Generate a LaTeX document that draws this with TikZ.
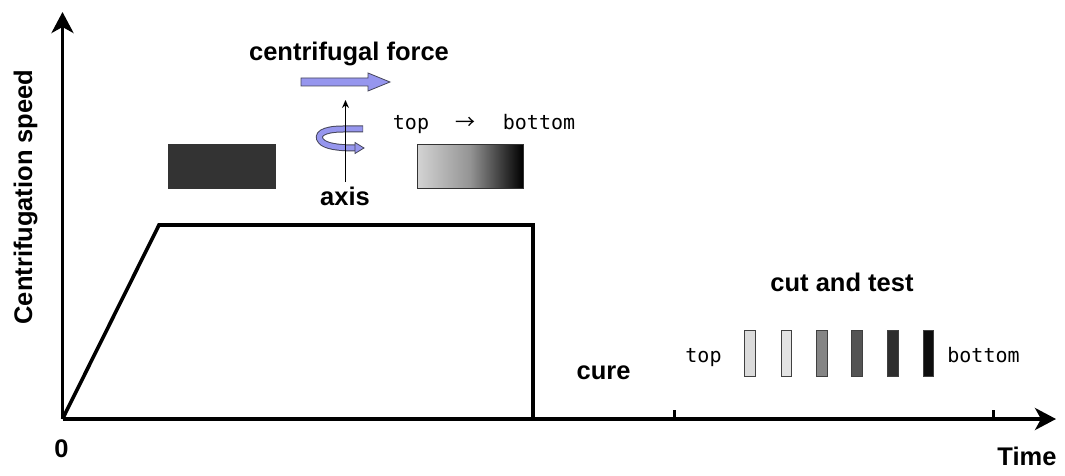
\documentclass[tikz,border=0pt]{standalone}
\usepackage{fontspec}
\setmainfont{Liberation Sans}
\newfontfamily\monofont{DejaVu Sans Mono}
\newfontfamily\cjkfont{Noto Sans CJK JP}
\usetikzlibrary{arrows.meta}
\definecolor{arrowblue}{RGB}{150,150,238}
\definecolor{edgegray}{RGB}{70,70,90}
\tikzset{
  x=1pt, y=-1pt,
  axisline/.style={line width=3.6pt, -{Stealth[length=21pt, width=22pt, inset=6pt]}},
  curve/.style={line width=3.6pt, line join=miter},
  boldlabel/.style={font=\fontsize{25.5}{30}\selectfont\bfseries, inner sep=0pt},
  monolabel/.style={font=\monofont\fontsize{20}{23}\selectfont, inner sep=0pt},
  sample/.style={draw=black!80, line width=0.8pt},
  bar/.style={draw=black!75, line width=0.8pt},
  tick/.style={line width=3pt},
}
\begin{document}
\begin{tikzpicture}
\useasboundingbox (0,0) rectangle (1065,476);
% axes
\coordinate (O) at (62.5,419);
\coordinate (Ytop) at (62.5,12);
\coordinate (Xend) at (1056,419);
\draw[axisline] (O) -- (Ytop);
\draw[axisline] (O) -- (Xend);
% speed profile
\coordinate (P1) at (159,225);
\coordinate (P2) at (533,225);
\coordinate (P3) at (533,419);
\draw[curve] (O) -- (P1) -- (P2) -- (P3);
% ticks
\coordinate (T1a) at (674,419); \coordinate (T1b) at (674,410);
\coordinate (T2a) at (993,419); \coordinate (T2b) at (993,410);
\draw[tick] (T1a) -- (T1b);
\draw[tick] (T2a) -- (T2b);
% axis labels
\node[boldlabel, anchor=base] (zero) at (61.5,457) {0};
\node[boldlabel, anchor=base] (time) at (1027,465) {Time};
\node[boldlabel, rotate=90, anchor=base] (ylabel) at (32,197) {Centrifugation speed};
% top illustration
\node[boldlabel, anchor=base] (cf) at (349,61) {centrifugal force};
\draw[draw=edgegray, line width=0.8pt, fill=arrowblue]
  (301,78) -- (368,78) -- (368,73) -- (390,82) -- (368,91) -- (368,86) -- (301,86) -- cycle;
% rotation curl
\draw[edgegray, line width=7pt]
  (363,129) -- (343,129) .. controls (322,129) and (316,135) .. (321,141)
  .. controls (325,146) and (337,148) .. (356,148);
\draw[arrowblue, line width=5pt]
  (362.6,129) -- (343,129) .. controls (322,129) and (316,135) .. (321,141)
  .. controls (325,146) and (337,148) .. (356.4,148);
\draw[draw=edgegray, line width=0.8pt, fill=arrowblue]
  (355,142.5) -- (364,148) -- (355,153.5) -- cycle;
\coordinate (axbot) at (345.5,182);
\coordinate (axtop) at (345.5,100);
\draw[line width=1.5pt, -{Stealth[length=8pt, width=7pt]}] (axbot) -- (axtop);
\node[boldlabel, anchor=base] (axis) at (345,205) {axis};
% samples
\node[sample, fill=black!80, minimum width=107pt, minimum height=44pt, inner sep=0pt] (dark) at (221.5,166) {};
\node[sample, left color=black!17, right color=black, middle color=black!42, minimum width=106pt, minimum height=44pt, inner sep=0pt] (grad) at (470,166) {};
\node[monolabel, anchor=base] (tt) at (411,129) {top};
\node[font=\cjkfont\fontsize{20}{23}\selectfont, inner sep=0pt, anchor=base] (ta) at (465,129) {→};
\node[monolabel, anchor=base] (tb) at (539,129) {bottom};
% cure
\node[boldlabel, anchor=base] (cure) at (603.5,379) {cure};
% cut and test
\node[boldlabel, anchor=base] (cut) at (842,291.5) {cut and test};
\node[monolabel, anchor=base] (ct) at (703.5,362) {top};
\node[monolabel, anchor=base] (cb) at (983.5,362) {bottom};
\node[bar, fill=black!14, minimum width=11pt, minimum height=46pt, inner sep=0pt] (b1) at (750,353) {};
\node[bar, fill=black!11, minimum width=10pt, minimum height=46pt, inner sep=0pt] (b2) at (786,353) {};
\node[bar, fill=black!48, minimum width=11pt, minimum height=46pt, inner sep=0pt] (b3) at (821.5,353) {};
\node[bar, fill=black!67, minimum width=11pt, minimum height=46pt, inner sep=0pt] (b4) at (856.5,353) {};
\node[bar, fill=black!82, minimum width=11pt, minimum height=46pt, inner sep=0pt] (b5) at (892.5,353) {};
\node[bar, fill=black!95, minimum width=10pt, minimum height=46pt, inner sep=0pt] (b6) at (928,353) {};
\end{tikzpicture}
\end{document}
